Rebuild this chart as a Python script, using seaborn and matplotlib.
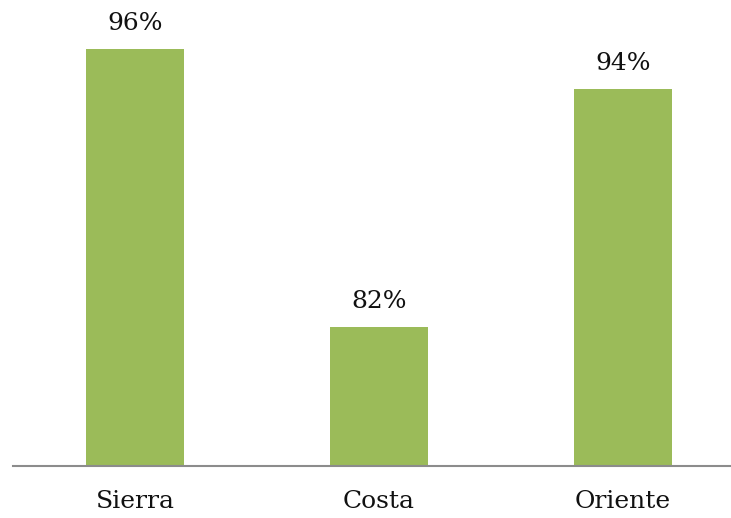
import matplotlib
matplotlib.use("Agg")
import matplotlib.pyplot as plt
import seaborn as sns
import pandas as pd

regions = ["Sierra", "Costa", "Oriente"]
shares = [96, 82, 94]
value_labels = ["96%", "82%", "94%"]

bar_color = "#9BBB59"
axis_color = "#8C8C8C"

sns.set_style("white")
plt.rcParams["font.family"] = ["DejaVu Serif"]

df = pd.DataFrame({"region": regions, "share": shares})

W, H = 731, 518
fig = plt.figure(figsize=(W / 100, H / 100), dpi=100)
ax = fig.add_axes([13 / W, 52 / H, 1 - 13 / W, 466 / H])

sns.barplot(data=df, x="region", y="share", color=bar_color, width=0.4,
            saturation=1, linewidth=0, ax=ax)

ax.set_xlim(-0.5, (W - 135) / 244)
ax.set_ylim(75, 75 + 466 / 19.86)

for patch, txt in zip(ax.patches, value_labels):
    ax.annotate(txt, (patch.get_x() + patch.get_width() / 2, patch.get_height()),
                xytext=(0, 10), textcoords="offset points",
                ha="center", va="bottom", fontsize=18, color="#111111")

for side in ["top", "right", "left"]:
    ax.spines[side].set_visible(False)
ax.spines["bottom"].set_color(axis_color)
ax.spines["bottom"].set_linewidth(1.5)

ax.set_yticks([])
ax.set_xlabel("")
ax.set_ylabel("")
ax.tick_params(axis="x", length=0, pad=17, labelsize=18, labelcolor="#111111")

fig.savefig("out.png", dpi=100)
